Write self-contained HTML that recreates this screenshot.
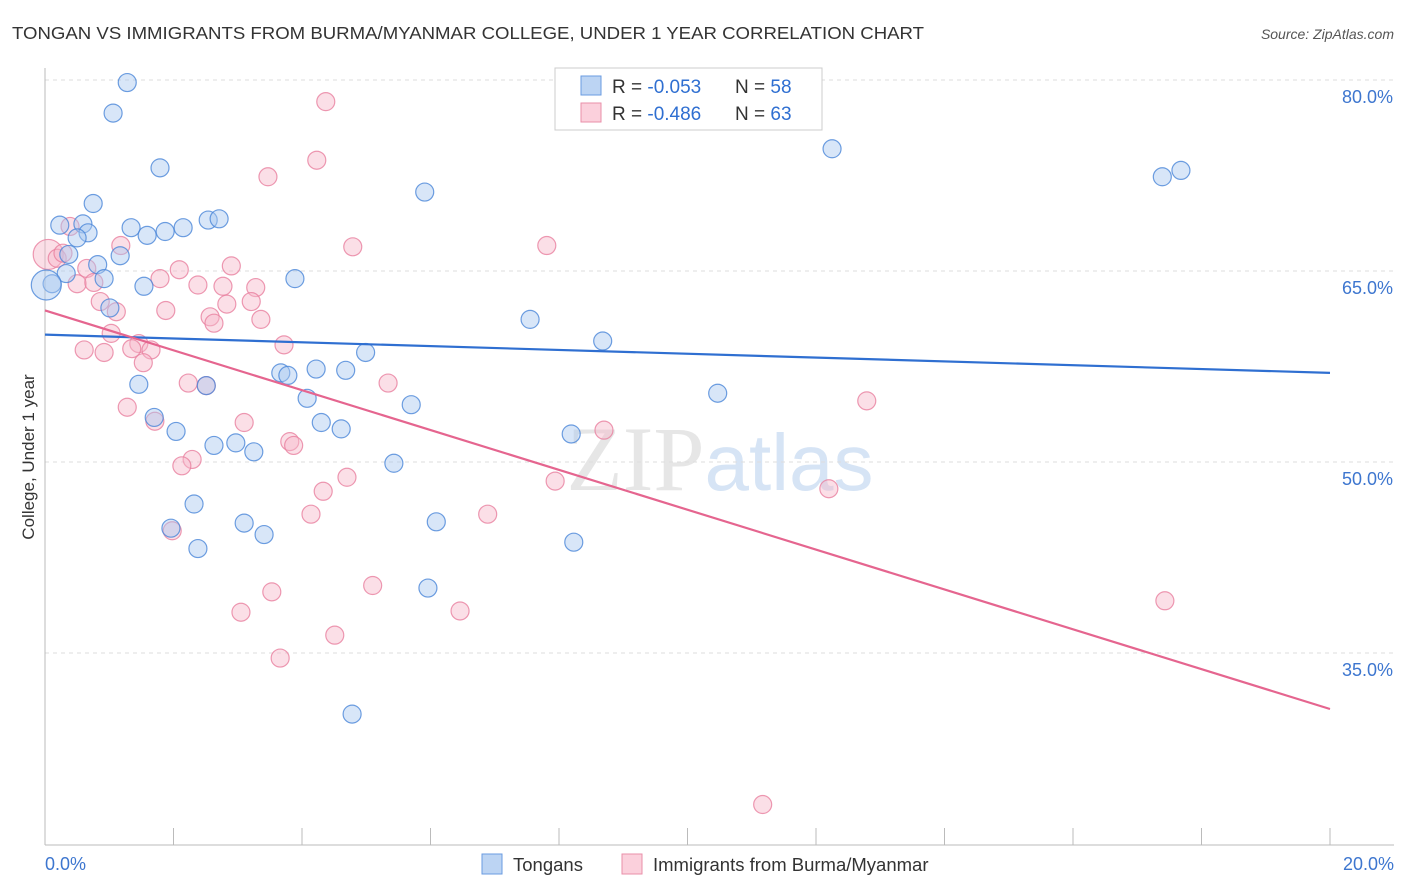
<!DOCTYPE html>
<html><head><meta charset="utf-8"><style>
body{margin:0;background:#fff;font-family:"Liberation Sans",sans-serif;}
svg{display:block}
</style></head><body>
<svg id="chart" width="1406" height="892">
<text x="12" y="39" font-size="17.5" fill="#333" textLength="912" lengthAdjust="spacingAndGlyphs">TONGAN VS IMMIGRANTS FROM BURMA/MYANMAR COLLEGE, UNDER 1 YEAR CORRELATION CHART</text>
<text x="1394" y="39" font-size="14" fill="#555" font-style="italic" text-anchor="end">Source: ZipAtlas.com</text>
<text x="720" y="490" font-size="92" fill="#e6e6e6" text-anchor="middle" font-family="Liberation Serif">ZIP<tspan fill="#d6e4f5" font-family="Liberation Sans" font-size="80">atlas</tspan></text>
<g id="grid"></g>
<g id="pts"></g>
<g id="lines"></g>
<text transform="translate(34,457) rotate(-90)" font-size="17" fill="#333" text-anchor="middle">College, Under 1 year</text>
<g>
<rect x="555" y="68" width="267" height="62" fill="#fff" stroke="#ccc"/>
<rect x="581" y="76" width="20" height="19" fill="#bcd4f3" stroke="#6a9be0"/>
<text x="612" y="93" font-size="19" fill="#333">R = <tspan fill="#2f6fd1">-0.053</tspan></text>
<text x="735" y="93" font-size="19" fill="#333">N = <tspan fill="#2f6fd1">58</tspan></text>
<rect x="581" y="103" width="20" height="19" fill="#fbd0dc" stroke="#ea8fa9"/>
<text x="612" y="120" font-size="19" fill="#333">R = <tspan fill="#2f6fd1">-0.486</tspan></text>
<text x="735" y="120" font-size="19" fill="#333">N = <tspan fill="#2f6fd1">63</tspan></text>
</g>
<g>
<rect x="482" y="854" width="20" height="20" fill="#bcd4f3" stroke="#6a9be0"/>
<text x="513" y="871" font-size="18.5" fill="#333">Tongans</text>
<rect x="622" y="854" width="20" height="20" fill="#fbd0dc" stroke="#ea8fa9"/>
<text x="653" y="871" font-size="18.5" fill="#333">Immigrants from Burma/Myanmar</text>
</g>
</svg>
<script>
const yTicks=[80,65,50,35];
const xTickLabels=["0.0%","20.0%"];
const blueX=[1.28,1.06,1.79,0.75,0.23,0.59,0.67,0.50,1.34,1.59,1.87,2.15,2.54,2.71,0.37,1.17,0.82,0.33,0.92,0.11,0.02,1.54,3.89,1.01,5.91,12.25,17.39,17.68,7.55,8.68,4.99,1.46,2.51,3.67,3.78,4.22,4.68,4.08,5.70,10.47,1.70,4.30,4.61,2.04,8.19,2.63,2.97,3.25,5.43,2.32,1.96,3.10,6.09,3.41,8.23,2.38,5.96,4.78];
const blueY=[79.8,77.4,73.1,70.3,68.6,68.7,68.0,67.6,68.4,67.8,68.1,68.4,69.0,69.1,66.3,66.2,65.5,64.8,64.4,64.0,63.9,63.8,64.4,62.1,71.2,74.6,72.4,72.9,61.2,59.5,58.6,56.1,56.0,57.0,56.8,57.3,57.2,55.0,54.5,55.4,53.5,53.1,52.6,52.4,52.2,51.3,51.5,50.8,49.9,46.7,44.8,45.2,45.3,44.3,43.7,43.2,40.1,30.2];
const pinkX=[4.37,4.23,3.47,0.05,0.19,0.28,0.39,1.18,4.79,7.81,0.65,2.09,2.90,1.79,0.50,0.76,2.38,2.77,3.28,0.86,2.83,3.21,1.88,1.11,2.57,2.63,3.36,1.03,1.46,1.35,1.65,0.61,0.92,3.72,1.53,2.23,2.51,5.34,12.79,1.28,1.71,3.10,8.70,3.81,3.87,2.29,2.13,4.70,7.94,4.33,12.20,4.14,6.89,1.98,5.10,3.53,3.05,6.46,17.43,4.51,3.66,11.17];
const pinkY=[78.3,73.7,72.4,66.3,66.0,66.4,68.5,67.0,66.9,67.0,65.2,65.1,65.4,64.4,64.0,64.1,63.9,63.8,63.7,62.6,62.4,62.6,61.9,61.8,61.4,60.9,61.2,60.1,59.3,58.9,58.8,58.8,58.6,59.2,57.8,56.2,56.0,56.2,54.8,54.3,53.2,53.1,52.5,51.6,51.3,50.2,49.7,48.8,48.5,47.7,47.9,45.9,45.9,44.6,40.3,39.8,38.2,38.3,39.1,36.4,34.6,23.1];
const blueTrend=[60.0,57.0];
const pinkTrend=[61.9,30.6];
const X0=45,X1=1330,Y80=80,PXPCT=12.733;
const xs=v=>X0+(v/20)*(X1-X0);
const ys=v=>Y80+(80-v)*PXPCT;
const NS="http://www.w3.org/2000/svg";
function mk(tag,attrs,parent){const e=document.createElementNS(NS,tag);for(const k in attrs)e.setAttribute(k,attrs[k]);parent.appendChild(e);return e;}
const grid=document.getElementById('grid');
yTicks.forEach(t=>{
  const l=mk('line',{x1:45,x2:1394,y1:ys(t),y2:ys(t),stroke:'#ddd','stroke-dasharray':'4,4'},grid);
  
  
  const tx=mk('text',{x:1393,y:ys(t)+23,'font-size':18,fill:'#3d76cf','text-anchor':'end'},grid);
  tx.textContent=t.toFixed(1)+'%';
  
  
});
const ax=mk('line',{x1:45,x2:45,y1:68,y2:845,stroke:'#bbb'},grid);


const bx=mk('line',{x1:45,x2:1394,y1:845,y2:845,stroke:'#bbb'},grid);


for(let i=0;i<=10;i++){
  const t=mk('line',{x1:xs(i*2),x2:xs(i*2),y1:828,y2:845,stroke:'#bbb'},grid);
  
  
}
xTickLabels.forEach((s,i)=>{
  const tx=mk('text',{x:i?1394:45,y:870,'font-size':18,fill:'#3d76cf','text-anchor':i?'end':'start'},grid);
  tx.textContent=s;
  
  
});
const pts=document.getElementById('pts');
function dots(X,Y,fill,stroke,name){
  X.forEach((x,i)=>{
    const r=(x<0.1)?15:9;
    const c=mk('circle',{cx:xs(x),cy:ys(Y[i]),r:r,fill:fill,'fill-opacity':0.45,stroke:stroke,'stroke-width':1.2,'stroke-opacity':0.8},pts);
    
    
  });
}
dots(pinkX,pinkY,'#f7b8ca','#e9809f','burma-point');
dots(blueX,blueY,'#a9c8f0','#4a86d8','tongan-point');
const lines=document.getElementById('lines');
const lb=mk('line',{x1:xs(0),y1:ys(blueTrend[0]),x2:xs(20),y2:ys(blueTrend[1]),stroke:'#2f6fd1','stroke-width':2.2},lines);


const lp=mk('line',{x1:xs(0),y1:ys(pinkTrend[0]),x2:xs(20),y2:ys(pinkTrend[1]),stroke:'#e5658f','stroke-width':2.2},lines);


</script>
</body></html>
